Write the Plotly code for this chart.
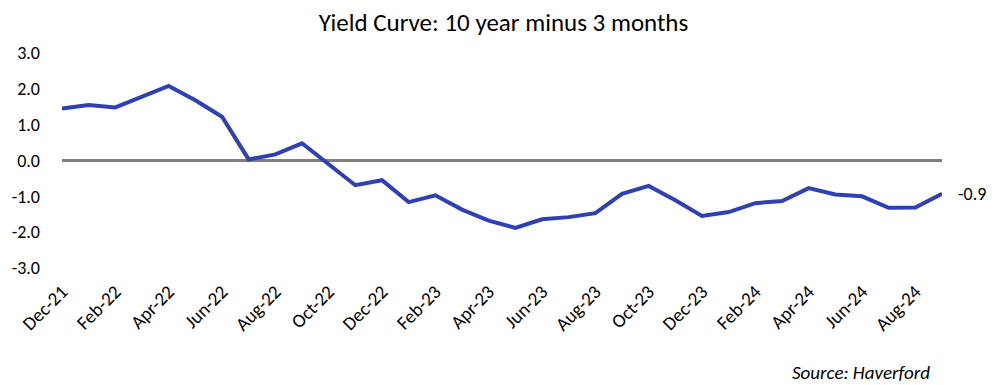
import plotly.graph_objects as go

months = ["Dec-21","Jan-22","Feb-22","Mar-22","Apr-22","May-22","Jun-22","Jul-22","Aug-22","Sep-22",
          "Oct-22","Nov-22","Dec-22","Jan-23","Feb-23","Mar-23","Apr-23","May-23","Jun-23","Jul-23",
          "Aug-23","Sep-23","Oct-23","Nov-23","Dec-23","Jan-24","Feb-24","Mar-24","Apr-24","May-24",
          "Jun-24","Jul-24","Aug-24","Sep-24"]
spread = [1.45, 1.55, 1.48, 1.78, 2.08, 1.68, 1.22, 0.03, 0.17, 0.48,
          -0.09, -0.69, -0.55, -1.16, -0.97, -1.37, -1.68, -1.88, -1.64, -1.58,
          -1.47, -0.93, -0.71, -1.11, -1.55, -1.44, -1.19, -1.13, -0.77, -0.95,
          -1.00, -1.32, -1.31, -0.93]
last_label = "-0.9"
yticks = [3.0, 2.0, 1.0, 0.0, -1.0, -2.0, -3.0]

x = list(range(len(months)))
font = "Carlito, Lato, 'Open Sans', sans-serif"

fig = go.Figure()
fig.add_trace(go.Scatter(x=[x[0], x[-1]], y=[0, 0], mode="lines",
                         line=dict(color="#808080", width=3), hoverinfo="skip", showlegend=False))
fig.add_trace(go.Scatter(x=x, y=spread, mode="lines",
                         line=dict(color="#2E40B8", width=4), showlegend=False))
fig.add_annotation(x=x[-1], y=spread[-1], text=last_label, xref="x", yref="y",
                   showarrow=False, xanchor="left", xshift=14,
                   font=dict(family=font, size=18, color="#000"))
fig.add_annotation(x=0.9886, y=-0.484, xref="paper", yref="paper", yanchor="middle", xanchor="right",
                   text="<i>Source: Haverford</i>", showarrow=False,
                   font=dict(family=font, size=19, color="#000"))

fig.update_layout(
    width=1003, height=385,
    margin=dict(l=54, r=69, t=45, b=125),
    paper_bgcolor="white", plot_bgcolor="white",
    title=dict(text="Yield Curve: 10 year minus 3 months", x=0.494, xanchor="center",
               y=0.964, yanchor="middle", font=dict(family=font, size=25, color="#000")),
    xaxis=dict(range=[0, len(months) - 1], tickvals=x[::2], ticktext=months[::2],
               tickangle=-45, showgrid=False, zeroline=False, showline=False,
               ticklabelstandoff=8, automargin=False,
               tickfont=dict(family=font, size=19, color="#000")),
    yaxis=dict(range=[-3, 3], tickvals=yticks, ticktext=[f"{v:.1f}" for v in yticks],
               showgrid=False, zeroline=False, showline=False, ticklabelstandoff=21,
               automargin=False,
               tickfont=dict(family=font, size=18, color="#000")),
)
fig.write_html("out.html")
